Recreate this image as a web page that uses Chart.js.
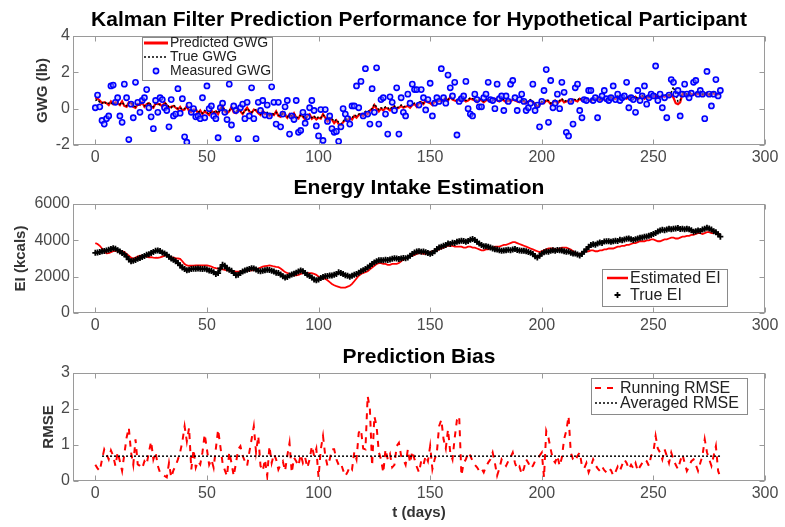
<!DOCTYPE html>
<html><head><meta charset="utf-8">
<script src="https://cdn.jsdelivr.net/npm/chart.js@4.4.1/dist/chart.umd.min.js"></script>
<style>
html,body{margin:0;padding:0;background:#fff;overflow:hidden;}
#wrap{position:relative;width:785px;height:527px;overflow:hidden;background:#fff;}
canvas{position:absolute;left:0;}
</style></head><body>
<div id="wrap">
<canvas id="c1" width="838" height="168" style="top:0px"></canvas>
<canvas id="c2" width="838" height="169" style="top:168px"></canvas>
<canvas id="c3" width="838" height="190" style="top:337px"></canvas>
</div>
<script>
// ---------------- DATA ----------------
const days = Array.from({length: 281}, (_, i) => i); // t (days) 0..280

const measuredGWG = [
 0.05,0.75,0.1,-0.65,-0.85,-0.55,-0.4,1.25,1.3,0.35,
 0.6,-0.4,-0.75,1.35,0.6,-1.7,0.25,-0.5,1.45,0.35,
 -0.2,0.45,0.6,1.05,0.05,-0.45,-1.1,0.45,-0.2,0.6,
 0.5,0.05,-0.1,-1.0,0.5,-0.4,-0.3,1.1,-0.25,0.55,
 -1.55,-1.85,0.2,-0.2,0.0,-0.45,-0.4,-0.55,0.6,-0.5,
 1.25,0.0,0.15,-0.4,-0.55,-1.6,0.05,0.3,-0.2,-0.6,
 1.35,-0.9,0.15,-0.1,-1.65,0.05,0.25,-0.55,0.35,-0.4,
 1.15,-0.55,-1.65,0.35,-0.1,0.45,-0.35,0.2,-0.4,1.2,
 0.35,-0.85,0.35,-1.0,-0.3,0.1,0.45,-1.4,-0.4,-0.6,
 0.45,-1.3,-1.2,-0.2,-0.8,-0.45,0.05,0.45,-0.1,-0.95,
 -1.5,-0.05,-1.75,-0.05,-0.7,-0.4,-1.1,-1.3,-1.25,-1.8,
 -1.0,0.0,-0.3,-0.55,-0.85,0.15,0.15,1.25,0.05,1.5,
 -0.4,2.2,-0.3,-0.85,1.1,-0.2,2.25,-0.85,0.5,0.6,
 -0.3,-1.4,0.65,0.35,-0.1,1.15,-1.4,0.6,-0.2,-0.4,
 0.8,0.3,1.35,1.05,1.05,0.2,1.05,0.6,-0.07,0.5,
 1.4,-0.4,0.3,0.6,0.4,2.2,0.6,0.3,1.85,1.15,
 0.7,1.45,-1.45,0.4,0.55,0.7,1.5,0.0,-0.3,-0.4,
 0.8,0.5,0.1,0.1,0.6,0.8,1.45,0.5,0.45,0.0,
 1.35,0.55,0.7,-0.1,0.7,0.4,1.35,1.55,0.6,-0.1,
 0.5,0.8,0.4,-0.1,0.05,0.3,1.35,-0.1,0.2,-1.0,
 0.4,1.0,2.15,-0.75,1.55,0.05,0.3,0.8,0.0,1.45,
 0.9,-1.3,-1.5,0.4,-0.85,1.15,1.35,-0.1,-0.5,0.5,
 0.45,1.0,1.0,0.45,0.6,-0.5,0.5,0.7,1.0,0.55,
 0.45,0.6,1.25,0.5,0.8,0.45,0.6,0.7,1.45,0.05,
 0.6,0.5,-0.2,1.0,0.45,0.7,1.25,0.25,0.6,0.8,
 0.7,2.35,0.45,0.8,0.05,0.6,-0.5,0.75,1.6,1.45,
 0.8,1.0,-0.4,0.8,1.35,0.8,0.6,0.85,1.45,1.55,
 0.8,1.0,0.8,-0.55,2.05,0.8,0.15,0.8,1.6,0.7,
 1.0
];

const trueGWG = [
 0.45,0.5,0.35,0.3,0.4,0.25,0.3,0.35,0.2,0.3,0.4,0.25,0.35,0.2,0.15,0.3,0.35,0.2,0.1,0.2,
 0.25,0.3,0.15,0.2,0.35,0.2,0.1,0.25,0.3,0.2,0.15,0.3,0.25,0.1,0.05,0.2,0.1,0.0,0.05,-0.05,
 0.0,0.1,-0.05,-0.15,-0.1,0.0,-0.2,-0.15,-0.25,-0.1,-0.2,-0.3,-0.15,-0.2,-0.1,-0.25,-0.05,0.1,-0.1,-0.2,
 -0.1,0.05,-0.15,-0.2,-0.05,-0.1,-0.25,-0.15,0.0,-0.1,-0.2,-0.1,-0.05,-0.2,-0.3,-0.15,-0.25,-0.2,-0.35,-0.25,
 -0.3,-0.2,-0.35,-0.4,-0.25,-0.3,-0.45,-0.35,-0.4,-0.3,-0.45,-0.5,-0.35,-0.4,-0.55,-0.45,-0.35,-0.5,-0.4,-0.55,
 -0.45,-0.5,-0.35,-0.45,-0.6,-0.5,-0.55,-0.7,-0.6,-0.75,-0.85,-0.7,-0.55,-0.6,-0.45,-0.5,-0.35,-0.4,-0.3,-0.25,
 -0.3,-0.15,-0.2,-0.05,0.0,0.25,0.1,-0.05,0.05,0.0,0.1,0.05,-0.05,0.1,0.15,0.05,0.1,0.2,0.1,0.15,
 0.2,0.1,0.25,0.3,0.2,0.35,0.4,0.3,0.5,0.4,0.35,0.3,0.45,0.4,0.5,0.45,0.55,0.6,0.5,0.7,
 0.55,0.5,0.45,0.6,0.5,0.55,0.45,0.5,0.6,0.55,0.5,0.45,0.55,0.5,0.4,0.5,0.55,0.45,0.5,0.6,
 0.5,0.45,0.55,0.5,0.4,0.5,0.45,0.55,0.5,0.45,0.4,0.5,0.45,0.35,0.45,0.5,0.4,0.3,0.15,0.25,
 0.4,0.35,0.5,0.45,0.3,0.4,0.5,0.35,0.45,0.55,0.4,0.45,0.5,0.4,0.55,0.5,0.45,0.6,0.5,0.55,
 0.6,0.5,0.45,0.6,0.55,0.65,0.5,0.6,0.55,0.5,0.6,0.65,0.55,0.6,0.7,0.6,0.55,0.65,0.6,0.7,
 0.65,0.6,0.7,0.55,0.65,0.75,0.6,0.7,0.65,0.75,0.7,0.8,0.65,0.7,0.75,0.7,0.8,0.75,0.9,1.2,
 0.8,0.4,0.45,0.9,0.85,0.8,0.9,0.85,0.8,0.9,0.85,0.95,0.8,0.85,0.9,0.8,0.85,0.9,0.8,0.85,
 0.9
];

const predictedGWG = [
 0.6,0.55,0.45,0.3,0.35,0.3,0.2,0.4,0.25,0.35,0.3,0.2,0.4,0.15,0.1,0.35,0.3,0.1,0.05,0.25,
 0.2,0.35,0.1,0.25,0.3,0.1,0.05,0.3,0.25,0.25,0.1,0.35,0.2,0.05,0.1,0.15,0.05,-0.05,0.1,-0.1,
 -0.05,0.15,-0.15,-0.2,-0.05,-0.05,-0.25,-0.1,-0.3,-0.15,-0.25,-0.35,-0.1,-0.25,-0.15,-0.3,0.0,0.15,-0.15,-0.25,
 -0.15,0.1,-0.2,-0.25,0.0,-0.15,-0.3,-0.1,0.05,-0.15,-0.25,-0.05,-0.1,-0.25,-0.35,-0.1,-0.3,-0.25,-0.4,-0.3,
 -0.35,-0.15,-0.4,-0.45,-0.2,-0.35,-0.5,-0.3,-0.45,-0.25,-0.5,-0.55,-0.3,-0.45,-0.6,-0.4,-0.3,-0.55,-0.45,-0.6,
 -0.5,-0.55,-0.3,-0.5,-0.7,-0.55,-0.6,-0.8,-0.65,-0.85,-0.9,-0.75,-0.6,-0.7,-0.5,-0.6,-0.4,-0.5,-0.35,-0.3,
 -0.4,-0.2,-0.3,-0.1,-0.05,0.2,0.0,-0.15,0.0,-0.1,0.05,0.0,-0.1,0.05,0.1,0.0,0.05,0.15,0.05,0.1,
 0.15,0.05,0.2,0.25,0.1,0.3,0.35,0.25,0.45,0.35,0.3,0.2,0.4,0.35,0.45,0.4,0.5,0.55,0.45,0.65,
 0.5,0.45,0.4,0.55,0.45,0.5,0.4,0.45,0.55,0.5,0.45,0.35,0.5,0.45,0.35,0.45,0.5,0.4,0.45,0.55,
 0.45,0.4,0.5,0.45,0.35,0.45,0.4,0.5,0.45,0.4,0.35,0.45,0.4,0.3,0.4,0.45,0.35,0.25,0.1,0.2,
 0.35,0.3,0.45,0.4,0.25,0.35,0.45,0.3,0.4,0.5,0.35,0.4,0.45,0.35,0.5,0.45,0.4,0.55,0.45,0.5,
 0.55,0.45,0.4,0.55,0.5,0.6,0.45,0.55,0.5,0.45,0.55,0.6,0.5,0.55,0.65,0.55,0.5,0.6,0.55,0.65,
 0.6,0.55,0.65,0.5,0.6,0.7,0.55,0.65,0.6,0.7,0.65,0.75,0.6,0.65,0.7,0.65,0.75,0.7,0.8,0.6,
 0.3,0.25,0.35,0.8,0.8,0.75,0.85,0.8,0.75,0.85,0.8,0.9,0.75,0.8,0.85,0.75,0.8,0.85,0.75,0.8,
 0.85
];

const trueEI = [
 3310,3330,3360,3400,3410,3440,3480,3520,3560,3540,3460,3380,3300,3240,3100,2950,2850,2870,2920,2980,
 3030,3080,3140,3200,3240,3300,3360,3420,3440,3410,3330,3280,3200,3100,3000,2930,2850,2750,2620,2500,
 2420,2350,2380,2420,2440,2430,2450,2440,2420,2430,2400,2340,2310,2250,2150,2200,2450,2650,2600,2450,
 2380,2320,2200,2080,2100,2200,2280,2340,2380,2420,2470,2450,2400,2330,2300,2320,2360,2380,2370,2330,
 2280,2220,2200,2120,2020,1950,1980,2060,2120,2160,2220,2280,2340,2300,2200,2100,2030,1950,1850,1800,
 1850,1920,1980,2020,2040,2060,2070,2100,2150,2240,2200,2150,2080,2050,2000,2050,2100,2150,2220,2300,
 2350,2420,2500,2600,2700,2780,2850,2900,2900,2900,2930,2920,2950,2980,3020,3000,2970,3000,3030,3020,
 3060,3150,3250,3330,3380,3400,3370,3380,3350,3300,3260,3300,3400,3520,3600,3650,3700,3750,3820,3800,
 3870,3860,3920,3950,3980,3960,3920,3960,4030,4080,4020,3920,3820,3750,3680,3680,3650,3600,3550,3510,
 3490,3450,3420,3440,3450,3480,3460,3490,3520,3470,3440,3420,3430,3400,3360,3310,3250,3120,3060,3150,
 3280,3340,3380,3370,3430,3450,3420,3470,3450,3440,3400,3370,3380,3310,3270,3280,3220,3170,3250,3380,
 3500,3640,3740,3780,3760,3830,3880,3860,3930,3950,3950,3920,3950,3980,3960,4030,4010,4050,4090,4100,
 4060,4020,4060,4100,4140,4160,4200,4210,4250,4300,4350,4400,4490,4540,4580,4560,4600,4640,4610,4640,
 4650,4680,4620,4640,4610,4640,4610,4560,4470,4500,4540,4510,4590,4640,4690,4650,4590,4500,4440,4340,
 4200
];

const estimatedEI = [
 3850,3800,3700,3550,3400,3280,3300,3350,3400,3420,3420,3400,3400,3350,3250,3150,3050,2980,3050,3100,
 3160,3150,3120,3100,3070,3070,3050,3040,3034,3060,3100,3160,3160,3120,3080,3050,3020,3000,2980,2850,
 2700,2620,2600,2600,2610,2620,2620,2620,2620,2620,2616,2600,2550,2500,2470,2450,2434,2400,2370,2343,
 2350,2330,2300,2280,2280,2290,2300,2320,2340,2340,2343,2360,2400,2450,2500,2550,2580,2600,2616,2600,
 2560,2540,2525,2450,2350,2252,2200,2150,2100,2071,2071,2100,2150,2198,2198,2198,2190,2198,2150,2100,
 2000,1950,1900,1889,1800,1700,1600,1525,1480,1440,1400,1400,1400,1450,1500,1600,1750,1900,2050,2150,
 2200,2250,2300,2400,2500,2600,2700,2750,2750,2700,2700,2650,2650,2700,2700,2700,2750,2850,2950,3000,
 3050,3100,3150,3200,3250,3300,3300,3250,3250,3300,3350,3400,3450,3450,3500,3550,3600,3650,3700,3700,
 3700,3650,3650,3650,3650,3600,3600,3650,3650,3600,3600,3550,3500,3450,3450,3500,3500,3550,3600,3650,
 3650,3650,3700,3750,3750,3800,3850,3900,3900,3850,3800,3750,3700,3650,3600,3550,3500,3450,3400,3350,
 3400,3450,3500,3550,3550,3550,3500,3500,3550,3600,3600,3600,3550,3500,3400,3300,3250,3250,3300,3350,
 3400,3400,3450,3450,3400,3400,3450,3450,3500,3500,3550,3550,3550,3600,3650,3650,3700,3700,3750,3750,
 3800,3850,3850,3900,3950,3950,3950,4000,4000,4050,4050,4000,3950,3950,4000,4050,4050,4100,4150,4150,
 4100,4100,4150,4200,4200,4250,4250,4300,4300,4350,4400,4400,4350,4400,4450,4450,4400,4400,4450,4400,
 4300
];

const runningRMSE = [
 0.45,0.35,0.28,0.6,0.88,0.75,0.6,0.85,0.7,0.42,
 0.8,0.55,0.28,0.75,1.2,1.48,0.8,0.45,1.16,0.46,
 0.42,0.35,0.55,0.46,0.8,1.1,0.6,0.8,0.42,0.23,
 0.18,0.14,0.1,0.5,0.1,0.3,0.42,0.6,0.8,1.1,
 1.52,1.1,1.48,0.32,0.88,0.37,0.55,0.46,0.8,1.3,
 0.88,0.45,0.6,0.37,0.9,1.43,0.97,0.5,0.3,0.14,
 0.8,0.5,0.14,0.5,0.88,0.97,0.7,0.55,0.42,0.8,
 1.16,1.52,0.8,1.25,0.42,0.28,0.6,0.14,0.97,0.5,
 0.75,0.6,0.32,0.46,0.55,0.28,0.7,1.06,0.23,0.65,
 0.55,0.42,0.74,0.5,0.65,0.37,0.6,0.97,0.7,0.9,
 0.1,0.88,1.25,0.7,0.42,0.6,0.88,0.88,0.6,0.45,
 0.5,0.3,0.14,0.25,0.4,0.32,0.8,0.6,1.34,1.43,
 0.9,0.88,2.36,2.0,0.42,1.8,1.52,0.8,0.6,0.23,
 0.88,0.6,0.75,0.38,0.45,0.97,1.06,0.7,0.6,0.45,
 0.88,0.5,0.83,0.6,0.4,0.24,0.56,0.45,0.7,0.55,
 0.97,0.33,0.6,0.79,1.52,1.7,1.16,0.9,1.43,0.79,
 0.6,1.2,1.7,1.8,0.15,0.5,0.6,0.79,0.7,0.55,
 0.45,0.38,0.28,0.35,0.24,0.4,0.51,0.6,0.79,0.5,
 0.15,0.35,0.6,0.5,0.42,0.55,0.65,0.79,0.5,0.33,
 0.4,0.19,0.35,0.6,0.5,0.35,0.42,0.55,0.6,0.7,
 0.79,0.1,1.39,1.2,0.88,0.6,0.51,0.7,0.42,0.65,
 1.16,1.4,1.8,0.79,0.6,0.55,0.7,0.79,0.42,0.35,
 0.5,0.24,0.4,0.6,0.45,0.35,0.28,0.4,0.3,0.24,
 0.35,0.3,0.15,0.25,0.4,0.28,0.45,0.6,0.5,0.33,
 0.45,0.35,0.5,0.28,0.4,0.5,0.6,0.55,0.42,0.7,
 0.8,1.25,0.9,0.79,0.6,0.88,0.7,0.5,0.79,0.6,
 0.45,0.33,0.55,0.74,0.5,0.28,0.4,0.55,0.6,0.45,
 0.28,0.5,0.7,1.16,0.8,0.6,0.42,0.7,0.97,0.28,
 0.1
];

const averagedRMSE = 0.69;
const averagedRMSEDays = [3, 280];

const xTicks = [0, 50, 100, 150, 200, 250, 300];

// ---------------- RENDERING ----------------
const FONT = "'Liberation Sans', Arial, Helvetica, sans-serif";
const TICK_COLOR = '#4a4a4a';
const LABEL_COLOR = '#333333';

const pts = (xs, ys) => xs.map((x, i) => ({x, y: ys[i]}));

const matlabFrame = {
  id: 'matlabFrame',
  afterDatasetsDraw(chart, args, opts) {
    const {ctx, chartArea: a, scales: {x, y}} = chart;
    const len = opts.tick || 5;
    ctx.save();
    ctx.strokeStyle = opts.color || '#999';
    ctx.lineWidth = 1;
    ctx.setLineDash([]);
    const L = Math.round(a.left) + 0.5, R = Math.round(a.right) - 0.5;
    const T = Math.round(a.top) + 0.5, B = Math.round(a.bottom) - 0.5;
    ctx.strokeRect(L, T, R - L, B - T);
    ctx.beginPath();
    x.ticks.forEach(t => {
      const px = Math.round(x.getPixelForValue(t.value)) + 0.5;
      ctx.moveTo(px, B); ctx.lineTo(px, B - len);
      ctx.moveTo(px, T); ctx.lineTo(px, T + len);
    });
    y.ticks.forEach(t => {
      const py = Math.round(y.getPixelForValue(t.value)) + 0.5;
      ctx.moveTo(L, py); ctx.lineTo(L + len, py);
      ctx.moveTo(R, py); ctx.lineTo(R - len, py);
    });
    ctx.stroke();
    ctx.restore();
  }
};

const boxLegend = {
  id: 'boxLegend',
  afterDraw(chart, args, o) {
    if (!o || !o.items) return;
    const ctx = chart.ctx;
    ctx.save();
    ctx.fillStyle = '#fff';
    ctx.fillRect(o.left, o.top, o.width, o.height);
    ctx.strokeStyle = '#8a8a8a';
    ctx.lineWidth = 1;
    ctx.setLineDash([]);
    ctx.strokeRect(o.left + 0.5, o.top + 0.5, o.width, o.height);
    o.items.forEach((it, i) => {
      const ds = chart.data.datasets[it.dataset];
      const cy = o.top + o.firstRow + i * o.rowH;
      const x0 = o.left + o.sampleX, x1 = x0 + o.sampleLen;
      ctx.save();
      if (it.kind === 'line') {
        ctx.strokeStyle = ds.borderColor;
        ctx.lineWidth = it.width || ds.borderWidth;
        ctx.setLineDash(ds.borderDash || []);
        ctx.beginPath(); ctx.moveTo(x0, cy); ctx.lineTo(x1, cy); ctx.stroke();
      } else {
        ctx.strokeStyle = ds.pointBorderColor;
        ctx.fillStyle = ds.pointBackgroundColor || 'rgba(0,0,0,0)';
        ctx.lineWidth = ds.pointBorderWidth;
        ctx.setLineDash([]);
        Chart.helpers.drawPoint(ctx, {pointStyle: ds.pointStyle, rotation: 0, radius: ds.pointRadius, borderWidth: ds.pointBorderWidth}, (x0 + x1) / 2, cy);
      }
      ctx.restore();
      ctx.font = o.fontSize + 'px ' + FONT;
      ctx.textBaseline = 'middle';
      ctx.textAlign = 'left';
      ctx.fillStyle = '#222';
      ctx.fillText(ds.label, x1 + 2, cy + 0.5);
    });
    ctx.restore();
  }
};

Chart.register(matlabFrame, boxLegend);

function makeOptions(o) {
  return {
    responsive: false,
    animation: false,
    devicePixelRatio: 1,
    events: [],
    layout: {padding: {left: 0, right: 0, top: 0, bottom: 0}},
    plugins: {
      legend: {display: false},
      tooltip: {enabled: false},
      title: {
        display: true, text: o.title, color: '#000',
        font: {family: FONT, size: 21, weight: 'bold', lineHeight: 1.2},
        padding: {top: 7.4, bottom: 3.4}
      },
      matlabFrame: {color: '#9a9a9a', tick: 5},
      boxLegend: o.legend
    },
    scales: {
      x: {
        type: 'linear', min: -10, max: 300,
        ticks: {stepSize: 50, color: TICK_COLOR, font: {family: FONT, size: 16}, padding: 3,
                maxRotation: 0, autoSkip: false, callback: v => String(v)},
        grid: {display: false, drawTicks: false},
        border: {display: false},
        afterBuildTicks: s => { s.ticks = xTicks.map(v => ({value: v})); },
        afterFit: s => { s.height = o.xHeight; },
        title: o.xTitle ? {display: true, text: o.xTitle, color: LABEL_COLOR,
                 font: {family: FONT, size: 15, weight: 'bold', lineHeight: 1.2},
                 padding: {top: 0, bottom: 5}} : {display: false}
      },
      y: {
        type: 'linear', position: 'left', min: o.yMin, max: o.yMax,
        ticks: {stepSize: o.yStep, color: TICK_COLOR, font: {family: FONT, size: 16}, padding: 3,
                callback: v => String(v)},
        grid: {display: false, drawTicks: false},
        border: {display: false},
        afterFit: s => { s.width = 73; },
        title: {display: true, text: o.yTitle, color: LABEL_COLOR,
                font: {family: FONT, size: 15, weight: 'bold', lineHeight: 1.2},
                padding: {top: o.yTitlePad, bottom: 0}}
      },
      yRightSpace: {
        type: 'linear', position: 'right', display: true,
        ticks: {display: false}, grid: {display: false, drawTicks: false},
        border: {display: false}, title: {display: false},
        afterFit: s => { s.width = 73; }
      }
    }
  };
}

// Chart 1: GWG
new Chart(document.getElementById('c1'), {
  type: 'line',
  data: {datasets: [
    {label: 'Measured GWG', data: pts(days, measuredGWG), showLine: false,
     pointStyle: 'circle', pointRadius: 2.6, pointBorderWidth: 1.6,
     pointBorderColor: '#0000ff', pointBackgroundColor: 'rgba(150,150,255,0.45)',
     borderColor: '#0000ff', backgroundColor: 'rgba(150,150,255,0.45)'},
    {label: 'True GWG', data: pts(days, trueGWG), borderColor: '#000000', borderWidth: 1.5,
     borderDash: [2, 2], pointRadius: 0, fill: false},
    {label: 'Predicted GWG', data: pts(days, predictedGWG), borderColor: '#ff0000', borderWidth: 2.2,
     pointRadius: 0, fill: false}
  ]},
  options: makeOptions({
    title: 'Kalman Filter Prediction Performance for Hypothetical Participant',
    yTitle: 'GWG (lb)', yMin: -2, yMax: 4, yStep: 2, yTitlePad: 34, xHeight: 23,
    legend: {left: 142, top: 37, width: 130, height: 43, firstRow: 6, rowH: 14,
             sampleX: 2, sampleLen: 24, fontSize: 14,
             items: [{dataset: 2, kind: 'line', width: 3}, {dataset: 1, kind: 'line'}, {dataset: 0, kind: 'point'}]}
  })
});

// Chart 2: Energy intake
new Chart(document.getElementById('c2'), {
  type: 'line',
  data: {datasets: [
    {label: 'True EI', data: pts(days, trueEI), showLine: true, borderWidth: 2.5,
     pointStyle: 'cross', pointRadius: 3, pointBorderWidth: 1.8,
     pointBorderColor: '#000000', borderColor: '#000000', fill: false},
    {label: 'Estimated EI', data: pts(days, estimatedEI), borderColor: '#ff0000', borderWidth: 1.8,
     pointRadius: 0, fill: false}
  ]},
  options: makeOptions({
    title: 'Energy Intake Estimation',
    yTitle: 'EI (kcals)', yMin: 0, yMax: 6000, yStep: 2000, yTitlePad: 11.7, xHeight: 24,
    legend: {left: 602, top: 101, width: 125, height: 37, firstRow: 9, rowH: 17,
             sampleX: 5, sampleLen: 21, fontSize: 16,
             items: [{dataset: 1, kind: 'line', width: 2.5}, {dataset: 0, kind: 'point'}]}
  })
});

// Chart 3: RMSE
new Chart(document.getElementById('c3'), {
  type: 'line',
  data: {datasets: [
    {label: 'Averaged RMSE', data: averagedRMSEDays.map(d => ({x: d, y: averagedRMSE})),
     borderColor: '#000000', borderWidth: 1.5, borderDash: [2, 2], pointRadius: 0, fill: false},
    {label: 'Running RMSE', data: pts(days, runningRMSE), borderColor: '#ff0000', borderWidth: 2,
     borderDash: [6, 6], pointRadius: 0, fill: false}
  ]},
  options: makeOptions({
    title: 'Prediction Bias',
    yTitle: 'RMSE', yMin: 0, yMax: 3, yStep: 1, yTitlePad: 40, xHeight: 46, xTitle: 't (days)',
    legend: {left: 591, top: 41, width: 156, height: 36, firstRow: 10, rowH: 15,
             sampleX: 4, sampleLen: 23, fontSize: 16,
             items: [{dataset: 1, kind: 'line'}, {dataset: 0, kind: 'line'}]}
  })
});
</script>
</body></html>
